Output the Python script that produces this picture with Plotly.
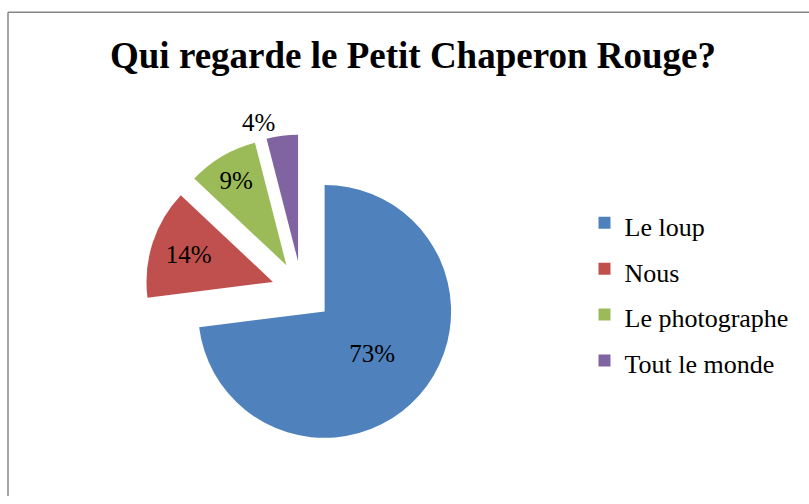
import plotly.graph_objects as go

categories = ["Le loup", "Nous", "Le photographe", "Tout le monde"]
values = [73, 14, 9, 4]
colors = ["#4F81BD", "#C0504D", "#9BBB59", "#8064A2"]
text_positions = ["inside", "inside", "inside", "outside"]
title_text = "Qui regarde le Petit Chaperon Rouge?"

W, H = 809, 504
SERIF = "Liberation Serif, Times New Roman, Times, serif"
# legend labels at ~26px, legend font bigger to get Excel-like row spacing
legend_labels = [f"<span style='font-size:26px'>{c}</span>" for c in categories]

fig = go.Figure(go.Pie(
    labels=legend_labels,
    values=values,
    sort=False,
    direction="clockwise",
    rotation=0,
    pull=0.24,
    marker=dict(colors=colors, line=dict(width=0)),
    textinfo="percent",
    texttemplate="%{percent:.0%}",
    textposition=text_positions,
    insidetextorientation="horizontal",
    textfont=dict(family=SERIF, size=25, color="black"),
    hoverinfo="label+percent",
    domain=dict(x=[0.1761, 0.5701], y=[0.0965, 0.7289]),
))

border = dict(color="#868686", width=1.5)
top_y = 1 - 12.5 / H
left_x = 8 / W

fig.update_layout(
    width=W, height=H,
    margin=dict(l=0, r=0, t=0, b=0),
    paper_bgcolor="white",
    plot_bgcolor="white",
    font=dict(family=SERIF, color="black"),
    title=dict(
        text="<b>" + title_text + "</b>",
        x=413 / W, xanchor="center",
        y=1 - 55 / H, yanchor="middle",
        font=dict(family=SERIF, size=37, color="black"),
    ),
    legend=dict(
        x=0.7225, xanchor="left",
        y=0.4117, yanchor="middle",
        font=dict(family=SERIF, size=33, color="black"),
        bgcolor="rgba(0,0,0,0)",
    ),
    shapes=[
        dict(type="line", xref="paper", yref="paper",
             x0=left_x, x1=1, y0=top_y, y1=top_y, line=border, layer="below"),
        dict(type="line", xref="paper", yref="paper",
             x0=left_x, x1=left_x, y0=0, y1=top_y, line=border, layer="below"),
    ],
)

fig.write_html("out.html")
